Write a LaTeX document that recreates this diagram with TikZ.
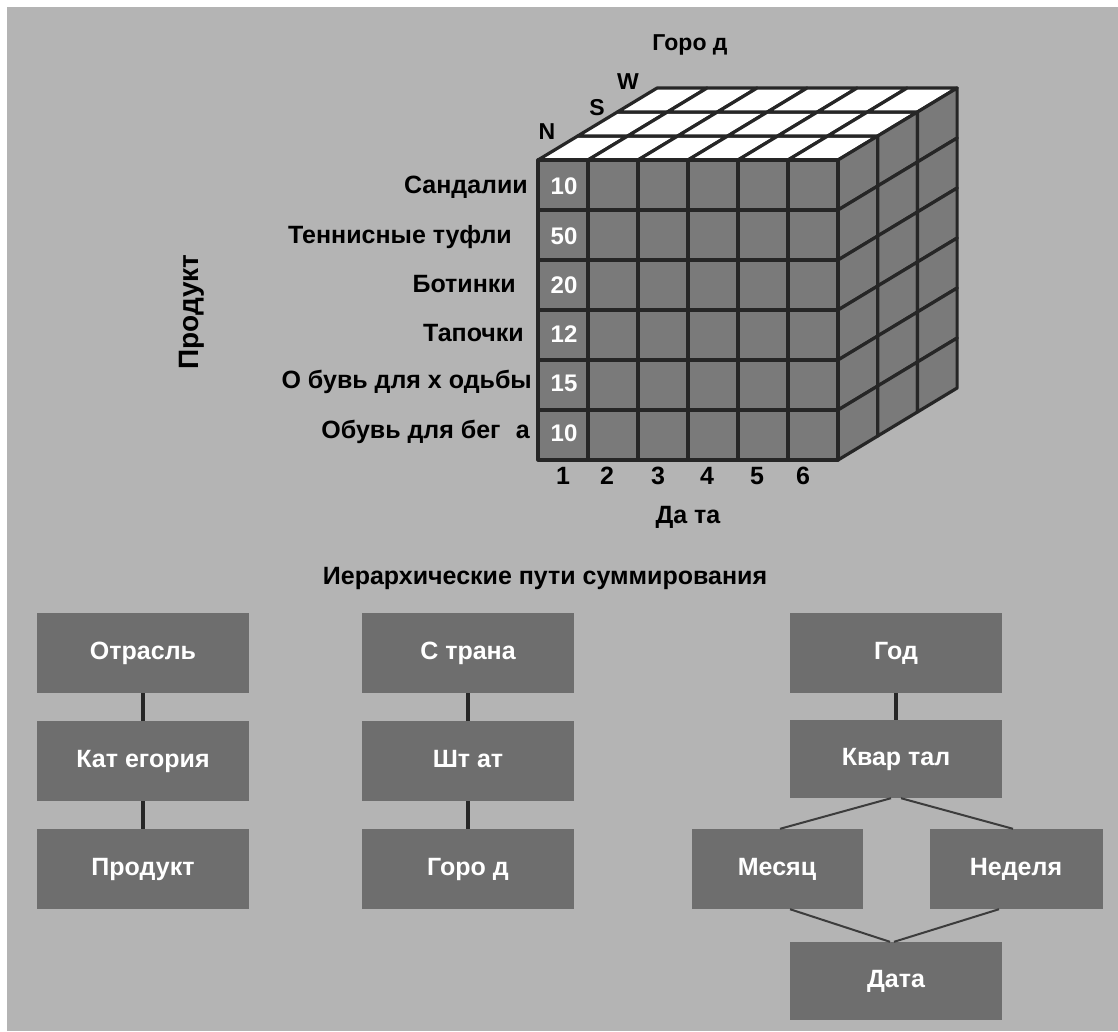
\documentclass[tikz,border=0pt]{standalone}
\usepackage{fontspec}
\setmainfont{Liberation Sans}
\definecolor{bg}{HTML}{B4B4B4}
\definecolor{boxgray}{HTML}{6E6E6E}
\definecolor{cellgray}{HTML}{7A7A7A}
\definecolor{linec}{HTML}{262626}
\definecolor{diagc}{HTML}{3C3C3C}
\begin{document}
\begin{tikzpicture}[x=1pt,y=-1pt,
  hbox/.style={fill=boxgray, minimum width=212pt, minimum height=80pt, inner sep=0pt,
    text height=18pt, text depth=5pt,
    text=white, font=\bfseries\fontsize{25}{27}\selectfont},
  lbl/.style={inner sep=0pt, text=black, font=\bfseries\fontsize{25}{27}\selectfont},
  small/.style={inner sep=0pt, text=black, font=\bfseries\fontsize{23}{25}\selectfont},
  num/.style={inner sep=0pt, text=white, font=\bfseries\fontsize{24}{26}\selectfont},
  thickcon/.style={draw=linec, line width=4pt},
  thincon/.style={draw=diagc, line width=2pt},
  gridline/.style={draw=linec, line width=3.2pt, line join=round},
]
% canvas
\fill[white] (0,0) rectangle (1118,1031);
\fill[bg] (7,7) rectangle (1118,1031);
\useasboundingbox (0,0) rectangle (1118,1031);

% ---- cube: top face
\foreach \i in {0,...,5}{
  \foreach \k in {0,1,2}{
    \filldraw[gridline, fill=white]
      ({538+50*\i+39.7*\k},{160-24*\k}) -- ++(50,0) -- ++(39.7,-24) -- ++(-50,0) -- cycle;
  }
}
% ---- cube: right face
\foreach \k in {0,1,2}{
  \foreach \j in {0,...,5}{
    \filldraw[gridline, fill=cellgray]
      ({838+39.7*\k},{160+50*\j-24*\k}) -- ++(39.7,-24) -- ++(0,50) -- ++(-39.7,24) -- cycle;
  }
}
% ---- cube: front face
\foreach \i in {0,...,5}{
  \foreach \j in {0,...,5}{
    \filldraw[gridline, fill=cellgray] ({538+50*\i},{160+50*\j}) rectangle ++(50,50);
  }
}

% values in first column
\node[num] (v1) at (564,186) {10};
\node[num] (v2) at (564,236) {50};
\node[num] (v3) at (564,285) {20};
\node[num] (v4) at (564,334) {12};
\node[num] (v5) at (564,383) {15};
\node[num] (v6) at (564,433) {10};

% row labels
\node[lbl, anchor=east] (r1) at (528,187) {Сандалии};
\node[lbl, anchor=east] (r2) at (512,237) {Теннисные туфли};
\node[lbl, anchor=east] (r3) at (516,284) {Ботинки};
\node[lbl, anchor=east] (r4) at (524,333) {Тапочки};
\node[lbl, anchor=east] (r5) at (532,382) {О бувь для х одьбы};
\node[lbl, anchor=east] (r6) at (530,432) {Обувь для бег\,\, а};

% axis labels
\node[lbl, font=\bfseries\fontsize{28}{30}\selectfont, rotate=90] (prod) at (192,312) {Продукт};
\foreach \n/\x in {1/563,2/607,3/658,4/707,5/757,6/803}{
  \node[lbl] (d\n) at (\x,476) {\n};
}
\node[lbl] (data) at (688,517) {Да та};
\node[small] (city) at (690,45) {Горо д};
\node[small] (cN) at (547,132) {N};
\node[small] (cS) at (597,108) {S};
\node[small] (cW) at (628,82) {W};

% title
\node[lbl] (title) at (545,578) {Иерархические пути суммирования};

% ---- hierarchies
\node[hbox] (otr) at (143,653) {Отрасль};
\node[hbox] (kat) at (143,761) {Кат егория};
\node[hbox] (prd) at (143,869) {Продукт};
\draw[thickcon] (otr.south) -- (kat.north);
\draw[thickcon] (kat.south) -- (prd.north);

\node[hbox] (str) at (468,653) {С трана};
\node[hbox] (sht) at (468,761) {Шт ат};
\node[hbox] (gor) at (468,869) {Горо д};
\draw[thickcon] (str.south) -- (sht.north);
\draw[thickcon] (sht.south) -- (gor.north);

\node[hbox] (god) at (896,653) {Год};
\node[hbox, minimum height=78pt] (kv) at (896,759) {Квар тал};
\node[hbox, minimum width=171pt] (mes) at (777,869) {Месяц};
\node[hbox, minimum width=173pt] (ned) at (1016,869) {Неделя};
\node[hbox, minimum height=78pt] (dt) at (896,981) {Дата};
\draw[thickcon] (god.south) -- (kv.north);
\draw[thincon] ([xshift=-5pt]kv.south) -- ([xshift=3pt]mes.north);
\draw[thincon] ([xshift=5pt]kv.south) -- ([xshift=-3pt]ned.north);
\draw[thincon] ([xshift=13pt]mes.south) -- ([xshift=-6pt]dt.north);
\draw[thincon] ([xshift=-17pt]ned.south) -- ([xshift=-2pt]dt.north);
\end{tikzpicture}
\end{document}
